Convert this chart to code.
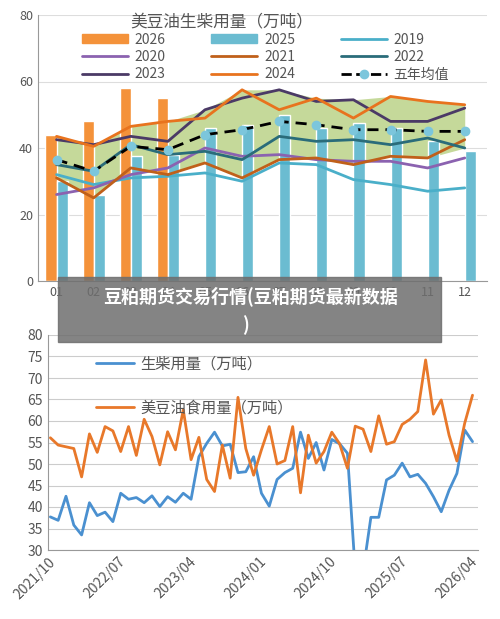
import numpy as np, pandas as pd, matplotlib
matplotlib.use("Agg")
import matplotlib.pyplot as plt, seaborn as sns
from matplotlib.lines import Line2D
from matplotlib.patches import Patch

sns.set_style("white")
plt.rcParams['font.family'] = ['Noto Sans CJK SC', 'DejaVu Sans']

months = list(range(1, 13))
month_labels = ["01","02","03","04","05","06","07","08","09","10","11","12"]
y2026 = [44, 48, 58, 55]
y2025 = [30, 26, 37.5, 38, 46, 47, 50, 46, 47.5, 46, 42, 39]
y2019 = [32, 29, 31, 31.5, 32.5, 30, 35.5, 35, 30.5, 29, 27, 28]
y2020 = [26, 28, 32, 34, 40, 37.5, 38, 36.5, 36, 36, 34, 37]
y2021 = [31, 25, 34, 32, 35.5, 31, 36.5, 37, 35, 37.5, 37, 42.5]
y2022 = [35, 33, 41, 38, 39, 36.5, 43.5, 42, 42.5, 41, 43, 40]
y2023 = [42.5, 41, 43.5, 42, 51.5, 55, 57.5, 54, 54.5, 48, 48, 52]
y2024 = [43.5, 40.5, 46.5, 48, 49, 57.5, 51.5, 55, 49, 55.5, 54, 53]
avg5 = [36.5, 33, 40.5, 39.5, 44, 45.5, 48, 47, 45.5, 45.5, 45, 45]

dates = pd.period_range("2021-10", "2026-04", freq="M")
diesel = [37.7, 36.9, 42.5, 35.8, 33.5, 41, 38, 38.8, 36.6, 43.2, 41.8, 42.2, 41, 42.6, 40.1,
          42.4, 41.1, 43.2, 41.8, 51.7, 54.8, 57.4, 54.2, 54.6, 48, 48.2, 51.7, 43.2, 40.2, 46.4,
          48, 49, 57.4, 51.3, 55, 48.6, 55.7, 54.7, 52.5, 25, 25, 37.6, 37.6, 46.3, 47.4, 50.2,
          47, 47.6, 45.5, 42.4, 38.9, 43.9, 47.8, 57.9, 55.2]
food = [56.1, 54.4, 54, 53.6, 47, 57, 52.7, 58.7, 57.7, 52.9, 58.7, 52, 60.4, 56.4, 49.8,
        57.5, 53.3, 62.6, 51, 56.2, 46.4, 43.6, 54.4, 46.7, 65.5, 53.6, 47.4, 53.3, 58.7, 50,
        50.8, 58.7, 43.3, 56.7, 50.2, 52.9, 57.4, 54.7, 49, 58.8, 58.1, 52.9, 61.2, 54.6, 55.2,
        59.2, 60.4, 62.2, 74.2, 61.6, 64.9, 56.7, 50.7, 59.5, 66]
tick_labels = ["2021/10", "2022/07", "2023/04", "2024/01", "2024/10", "2025/07", "2026/04"]

W, H = 500, 619
fig = plt.figure(figsize=(5, 6.19), dpi=100)
def rect(l, t, r, b):
    return [l / W, 1 - b / H, (r - l) / W, (b - t) / H]

# ---- top chart ----
ax = fig.add_axes(rect(38, 15, 487, 281))
m = np.array(months, dtype=float)
lo = np.minimum(y2021, y2022); hi = np.maximum(y2023, y2024)
ax.fill_between(m, lo, hi, color="#C5D99A", lw=0)
ax.bar(m[:4] - 0.15, y2026, width=0.3, color="#F4923A")
ax.bar(m + 0.15, y2025, width=0.3, color="#6BBCD1")
series = [(y2019, "#4AAFC9", "2019"), (y2020, "#8B62B0", "2020"), (y2021, "#C0601A", "2021"),
          (y2022, "#2A6C7A", "2022"), (y2023, "#4B3A66", "2023"), (y2024, "#E8731E", "2024")]
for ys, c, lab in series:
    sns.lineplot(x=m, y=ys, ax=ax, color=c, lw=2)
sns.lineplot(x=m, y=avg5, ax=ax, color="black", lw=2, linestyle=(0, (4, 2.5)))
ax.plot(m, avg5, 'o', color="#7CC6DC", ms=6, zorder=5)
ax.set_xlim(0.5, 12.6); ax.set_ylim(0, 80)
ax.set_yticks([0, 20, 40, 60, 80])
ax.set_xticks(m); ax.set_xticklabels(month_labels)
ax.yaxis.grid(True, color="#dddddd", lw=0.8)
for s in ["top", "right"]: ax.spines[s].set_visible(False)
for s in ["left", "bottom"]: ax.spines[s].set_color("#999999")
ax.tick_params(labelsize=9, colors="#555555", length=0)
handles = [Patch(color="#F4923A", label="2026"), Line2D([], [], color="#8B62B0", lw=2, label="2020"),
           Line2D([], [], color="#4B3A66", lw=2, label="2023"),
           Patch(color="#6BBCD1", label="2025"), Line2D([], [], color="#C0601A", lw=2, label="2021"),
           Line2D([], [], color="#E8731E", lw=2, label="2024"),
           Line2D([], [], color="#4AAFC9", lw=2, label="2019"), Line2D([], [], color="#2A6C7A", lw=2, label="2022"),
           Line2D([], [], color="black", lw=2, ls="--", marker="o", mfc="#7CC6DC", mec="#7CC6DC", label="五年均值")]
ax.legend(handles=handles, ncol=3, loc="upper left", bbox_to_anchor=(0.085, 0.955), frameon=False,
          fontsize=10, labelcolor="#555555", handlelength=3.3, columnspacing=3.3, handleheight=0.6,
          borderaxespad=0, labelspacing=0.25, handletextpad=0.5)
fig.text(222 / W, 1 - 23 / H, "美豆油生柴用量（万吨）", ha="center", va="center", fontsize=12, color="#555555")

# ---- bottom chart ----
ax2 = fig.add_axes(rect(48, 335, 478, 550))
x = np.arange(len(dates)) + 0.3
sns.lineplot(x=x, y=diesel, ax=ax2, color="#4A90D0", lw=2, label="生柴用量（万吨）")
sns.lineplot(x=x, y=food, ax=ax2, color="#E8782A", lw=2, label="美豆油食用量（万吨）")
ax2.set_xlim(0, 55); ax2.set_ylim(30, 80)
ax2.set_yticks(range(30, 81, 5))
ax2.set_xticks([0, 9, 18, 27, 36, 45, 54]); ax2.set_xticklabels(tick_labels, rotation=45, ha="right", rotation_mode="anchor")
ax2.yaxis.grid(True, color="#cccccc", lw=0.8)
for s in ["top", "right"]: ax2.spines[s].set_visible(False)
for s in ["left", "bottom"]: ax2.spines[s].set_color("#999999")
ax2.tick_params(axis="y", labelsize=10, colors="#555555", length=0)
ax2.tick_params(axis="x", labelsize=10, colors="#555555", length=4, direction="in")
ax2.legend(loc="upper left", bbox_to_anchor=(0.08, 0.97), frameon=False, fontsize=11, labelcolor="#555555",
           labelspacing=1.8, handlelength=2.5, handletextpad=0.4)

# ---- overlay ----
fig.patches.append(plt.Rectangle((58 / W, 1 - 342 / H), (441 - 58) / W, 65 / H, transform=fig.transFigure,
                                 color="#6e6e6e", alpha=0.85, zorder=10))
fig.text(250 / W, 1 - 296 / H, "豆粕期货交易行情(豆粕期货最新数据", ha="center", va="center", fontsize=13,
         color="white", weight="bold", zorder=11)
fig.text(245 / W, 1 - 325 / H, ")", ha="center", va="center", fontsize=13, color="white", weight="bold", zorder=11)

fig.savefig("out.png", dpi=100)
